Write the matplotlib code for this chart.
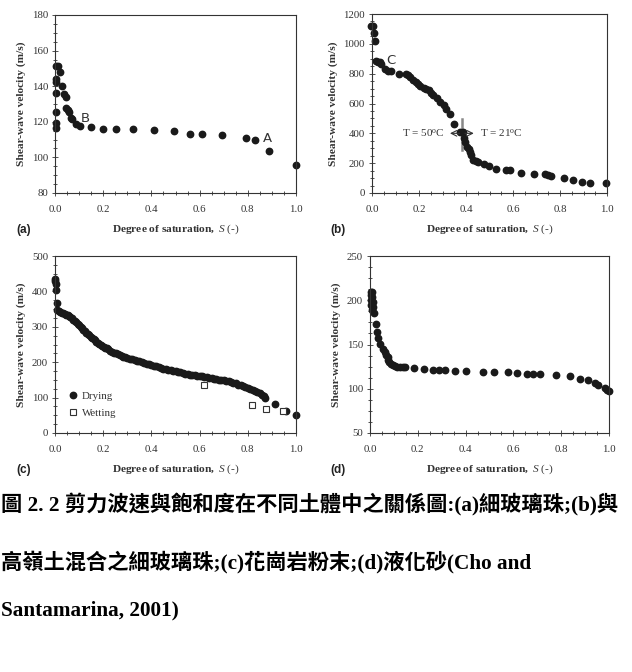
import matplotlib
matplotlib.use("Agg")
import matplotlib.pyplot as plt
from matplotlib.ticker import MultipleLocator

plt.rcParams['mathtext.fontset'] = 'custom'
plt.rcParams['mathtext.rm'] = 'Liberation Serif'
plt.rcParams['mathtext.it'] = 'Liberation Serif:italic'
plt.rcParams['mathtext.bf'] = 'Liberation Serif:bold'

# ---------------- data ----------------
# (a) fine glass beads
S_a = [0.003, 0.003, 0.003, 0.003, 0.003, 0.003, 0.003, 0.014, 0.021, 0.029, 0.037, 0.044,
       0.046, 0.054, 0.058, 0.065, 0.069, 0.087, 0.105, 0.150, 0.198, 0.252, 0.325, 0.410,
       0.493, 0.560, 0.611, 0.691, 0.794, 0.831, 0.888, 1.0]
V_a = [116.5, 119.3, 125.5, 136.2, 142.4, 144.2, 151.2, 151.2, 147.8, 140.1, 135.8, 133.9,
       127.9, 126.4, 125.5, 122.3, 121.4, 118.9, 117.5, 117.1, 116.1, 116.1, 116.1, 115.2,
       114.6, 113.3, 113.3, 112.6, 110.7, 109.6, 103.4, 95.7]

# (b) fine glass beads mixed with kaolinite
S_b = [-0.005, 0.004, 0.007, 0.011, 0.018, 0.027, 0.033, 0.040, 0.057, 0.067, 0.079, 0.115,
       0.143, 0.153, 0.163, 0.174, 0.186, 0.196, 0.203, 0.220, 0.231, 0.243, 0.250, 0.260,
       0.278, 0.288, 0.306, 0.316, 0.330, 0.350, 0.373, 0.387, 0.390, 0.397, 0.404, 0.413,
       0.418, 0.423, 0.430, 0.441, 0.451, 0.475, 0.496, 0.529, 0.572, 0.586, 0.635, 0.689,
       0.735, 0.749, 0.763, 0.816, 0.855, 0.895, 0.926, 0.997]
V_b = [1117, 1117, 1072, 1021, 886, 879, 875, 866, 830, 821, 817, 799,
       799, 792, 776, 758, 745, 729, 718, 707, 698, 691, 673, 657,
       635, 612, 590, 561, 527, 462, 410, 410, 372, 343, 310, 292,
       276, 253, 224, 213, 209, 193, 182, 164, 153, 153, 137, 130,
       126, 121, 117, 103, 85, 72, 65, 67]

# (c) granite powder
S_c_dry = [0.0, 0.002, 0.004, 0.003, 0.008, 0.01, 0.016, 0.022, 0.028, 0.034, 0.040, 0.046,
           0.052, 0.058, 0.064, 0.070, 0.076, 0.082, 0.088, 0.094, 0.100, 0.106, 0.112, 0.118,
           0.124, 0.130, 0.136, 0.142, 0.148, 0.154, 0.160, 0.166, 0.172, 0.178, 0.184, 0.190,
           0.196, 0.202, 0.208, 0.214, 0.220, 0.228, 0.236, 0.244, 0.252, 0.260, 0.268, 0.276,
           0.284, 0.292, 0.300, 0.310, 0.320, 0.330, 0.340, 0.350, 0.360, 0.370, 0.380, 0.390,
           0.400, 0.410, 0.420, 0.430, 0.440, 0.450, 0.460, 0.470, 0.480, 0.490, 0.500, 0.510,
           0.520, 0.530, 0.540, 0.550, 0.560, 0.570, 0.580, 0.590, 0.600, 0.610, 0.620, 0.630,
           0.640, 0.650, 0.660, 0.670, 0.680, 0.690, 0.700, 0.710, 0.720, 0.730, 0.740, 0.750,
           0.760, 0.770, 0.780, 0.790, 0.800, 0.810, 0.820, 0.830, 0.840, 0.850, 0.860, 0.866,
           0.870, 0.912, 0.958, 1.0]
V_c_dry = [434, 428, 421, 404, 368, 348, 344, 342, 340, 338, 336, 334,
           332, 330, 327, 324, 320, 316, 313, 308, 304, 300, 296, 292,
           288, 283, 279, 276, 272, 268, 265, 262, 258, 255, 252, 249,
           246, 244, 241, 239, 236, 233, 230, 227, 225, 223, 221, 218,
           216, 214, 212, 210, 208, 206, 204, 202, 200, 198, 196, 194,
           192, 190, 188, 186, 184, 182, 181, 179, 177, 176, 174, 172,
           171, 169, 168, 166, 165, 164, 163, 162, 161, 160, 158, 157,
           156, 155, 153, 152, 151, 150, 149, 148, 146, 144, 142, 140,
           137, 135, 132, 130, 127, 125, 122, 119, 116, 112, 108, 104,
           100, 83, 63, 52]
S_c_wet = [0.618, 0.819, 0.876, 0.945]
V_c_wet = [135, 80, 68, 63]

# (d) liquefied sand
S_d = [0.003, 0.010, 0.003, 0.010, 0.003, 0.014, 0.004, 0.014, 0.010, 0.018, 0.024, 0.028,
       0.035, 0.042, 0.053, 0.063, 0.067, 0.074, 0.077, 0.081, 0.086, 0.095, 0.104, 0.114,
       0.125, 0.136, 0.146, 0.185, 0.227, 0.262, 0.288, 0.313, 0.357, 0.400, 0.474, 0.518,
       0.579, 0.613, 0.655, 0.682, 0.713, 0.777, 0.836, 0.877, 0.912, 0.940, 0.954, 0.982,
       0.992, 1.0]
V_d = [209.8, 209.8, 206, 204, 200, 198.5, 194.7, 192, 189, 186, 173.7, 163.9,
       157, 150.8, 145, 142, 138, 135.7, 132.7, 129.7, 128.2, 126.3, 125.2, 124.8,
       124.4, 124.4, 124.4, 123.3, 122.2, 121, 121, 121, 119.9, 119.9, 118.4, 118.4,
       118.4, 117.7, 116.5, 116.5, 116.5, 115, 113.9, 111.3, 110.2, 106.4, 104.1, 101.1,
       98.9, 97.4]

panel_labels = ["(a)", "(b)", "(c)", "(d)"]
y_limits = [(80, 180), (0, 1200), (0, 500), (50, 250)]
y_major = [20, 200, 100, 50]
x_ticks = [0.0, 0.2, 0.4, 0.6, 0.8, 1.0]
caption_lines = ["圖 2. 2 剪力波速與飽和度在不同土體中之關係圖:(a)細玻璃珠;(b)與",
                 "高嶺土混合之細玻璃珠;(c)花崗岩粉末;(d)液化砂(Cho and",
                 "Santamarina, 2001)"]

# ---------------- figure ----------------
W, H = 632, 672
fig = plt.figure(figsize=(W / 100, H / 100), dpi=100)

def px_axes(l, t, r, b):
    return fig.add_axes([l / W, 1 - b / H, (r - l) / W, (b - t) / H])

boxes = [(55, 15, 296, 193), (372, 14, 607, 193), (55, 256, 296, 433), (370, 256, 609, 433)]
axes = [px_axes(*bx) for bx in boxes]

serif = 'Liberation Serif'
dot = dict(marker='o', ls='none', color='#1a1a1a', ms=4.6, mec='#1a1a1a')

for i, ax in enumerate(axes):
    ax.set_xlim(0, 1.0)
    ax.set_ylim(*y_limits[i])
    ax.set_xticks(x_ticks)
    ax.set_xticklabels([f"{t:.1f}" for t in x_ticks])
    ax.xaxis.set_minor_locator(MultipleLocator(0.05))
    ax.yaxis.set_major_locator(MultipleLocator(y_major[i]))
    ax.yaxis.set_minor_locator(MultipleLocator(y_major[i] / 4))
    ax.tick_params(which='both', direction='inout', labelsize=7.8, colors='#333333',
                   labelcolor='#333333', width=0.6)
    ax.tick_params(which='major', length=4)
    ax.tick_params(which='minor', length=2.5)
    ax.tick_params(axis='x', which='major', pad=7)
    ax.tick_params(axis='y', which='major', pad=3)
    for lab in ax.get_xticklabels() + ax.get_yticklabels():
        lab.set_fontfamily(serif)
    for sp in ax.spines.values():
        sp.set_linewidth(0.8)
        sp.set_color('#333333')
    ax.set_ylabel("Shear-wave velocity (m/s)", fontfamily=serif, fontweight='bold',
                  fontsize=8.2, color='#333333', labelpad=4)
    ax.set_xlabel(r"$\mathbf{Degree\ of\ saturation,}\ \mathit{S}$ (-)",
                  fontfamily=serif, fontsize=8.2, color='#333333', labelpad=6)

ax_a, ax_b, ax_c, ax_d = axes

ax_a.plot(S_a, V_a, clip_on=False, **dot)
ax_a.text(0.125, 121.8, "B", fontsize=9.5, color='#333333', ha='center', va='center')
ax_a.text(0.88, 110.5, "A", fontsize=9.5, color='#333333', ha='center', va='center')

ax_b.plot(S_b, V_b, clip_on=False, **dot)
ax_b.text(0.06, 886, "C", fontsize=9.5, color='#333333', ha='left', va='center')
ax_b.plot([0.384, 0.384], [287, 493], color='#888888', lw=1.8, zorder=1)
ax_b.annotate("", xy=(0.32, 400), xytext=(0.384, 400),
              arrowprops=dict(arrowstyle='->', color='#333333', lw=0.8))
ax_b.annotate("", xy=(0.445, 400), xytext=(0.384, 400),
              arrowprops=dict(arrowstyle='->', color='#333333', lw=0.8))
ax_b.text(0.31, 400, r"T = 50$^{\rm o}$C", fontfamily=serif, fontsize=8,
          color='#333333', ha='right', va='center')
ax_b.text(0.46, 400, r"T = 21$^{\rm o}$C", fontfamily=serif, fontsize=8,
          color='#333333', ha='left', va='center')

ax_c.plot(S_c_dry, V_c_dry, clip_on=False, label="Drying", **dot)
ax_c.plot(S_c_wet, V_c_wet, marker='s', ls='none', mfc='white', mec='#333333',
          ms=4.2, mew=0.8, label="Wetting", clip_on=False)
leg = ax_c.legend(loc='lower left', bbox_to_anchor=(0.0, 0.03), frameon=False,
                  prop={'family': serif, 'size': 7.8}, handletextpad=0.1,
                  labelspacing=0.7, handlelength=1.5)
for t in leg.get_texts():
    t.set_color('#333333')

ax_d.plot(S_d, V_d, clip_on=False, **dot)

# panel letters
letter_pos = [(24, 230), (338, 230), (24, 470), (338, 470)]
for (x, y), lab in zip(letter_pos, panel_labels):
    fig.text(x / W, 1 - y / H, lab, fontfamily='Liberation Sans', fontweight='bold',
             fontsize=8.5, color='#222222', ha='center', va='center')

# caption
cap_fam = ['Liberation Serif', 'Noto Sans CJK TC']
cap_pos = [(1, 505), (1, 562), (1, 610)]
for (x, y), line in zip(cap_pos, caption_lines):
    fig.text(x / W, 1 - y / H, line, fontfamily=cap_fam, fontweight='bold',
             fontsize=15.3, color='black', ha='left', va='center')

fig.savefig("out.png", dpi=100)
